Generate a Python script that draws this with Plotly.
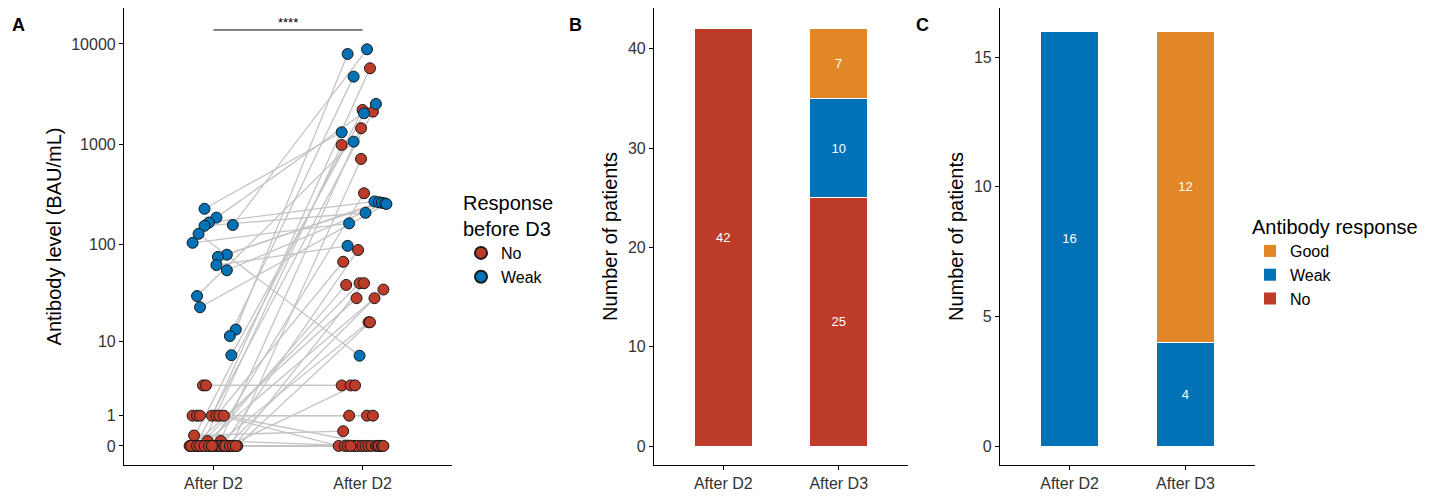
import numpy as np
import plotly.graph_objects as go

W, H = 1435, 496
OFF = 8  # default page body margin of the html page

# ---------------- Panel A data ----------------
groups = ["No", "Weak"]
# Red ("No" before D3) patients: value after D2, value after D3, horizontal jitter
no_d2 = [3, 3, 1, 1, 1, 1, 1, 1, 1, 0.27, 0.12, 0.12,
         0, 0, 0, 0, 0, 0, 0, 0, 0, 0, 0, 0, 0, 0, 0,
         0, 0, 0, 0, 0, 0, 0, 0, 0, 0, 0, 0, 0, 0, 0]
no_d3 = [3, 3, 1, 1, 1, 5730, 67, 0, 0, 0.4, 28.5, 0,
         3, 2205, 2120, 1450, 988, 717, 326, 88, 40.6, 40.6, 39, 35, 28.5, 16, 16,
         0, 0, 0, 0, 0, 0, 0, 0, 0, 0, 0, 0, 0, 0, 0]
no_j2 = [-0.07, -0.05, -0.14, -0.11, -0.09, -0.01, 0.02, 0.04, 0.07, -0.13, -0.04, 0.05,
         0.10, -0.16, -0.12, 0.03, -0.08, 0.12, -0.02, 0.06, -0.10, 0.14, -0.05, 0.09, -0.14, 0.01, 0.16,
         -0.15, -0.11, -0.09, -0.06, -0.03, 0.0, 0.02, 0.04, 0.05, 0.07, 0.08, 0.11, 0.13, -0.01, 0.15]
no_j3 = [-0.14, -0.08, -0.09, 0.03, 0.07, 0.05, -0.13, -0.16, 0.12, -0.13, 0.08, -0.02,
         -0.05, 0.0, 0.07, -0.01, -0.14, -0.01, 0.01, -0.03, -0.02, 0.01, -0.11, 0.14, -0.04, 0.04, 0.05,
         -0.12, -0.10, -0.07, -0.05, -0.04, 0.0, 0.02, 0.04, 0.06, 0.09, 0.10, 0.11, 0.13, 0.14, -0.08]

# Blue ("Weak" before D3) patients
weak_d2 = [228, 186, 166, 157, 154, 128, 104, 79, 75, 62, 55, 30, 23, 13.4, 11.4, 7.0]
weak_d3 = [1322, 2530, 270, 8850, 208, 6.9, 163, 265, 262, 97, 258, 1066, 255, 7950, 4730, 2043]
weak_j2 = [-0.06, 0.02, -0.03, 0.13, -0.06, -0.10, -0.14, 0.09, 0.03, 0.02, 0.09, -0.11, -0.09, 0.15, 0.11, 0.12]
weak_j3 = [-0.14, 0.09, 0.08, 0.03, 0.02, -0.02, -0.09, 0.11, 0.13, -0.10, 0.15, -0.06, 0.16, -0.10, -0.06, 0.01]

time_labels_a = ["After D2", "After D2"]
y_tick_values = [0, 1, 10, 100, 1000, 10000]
y_tick_labels = ["0", "1", "10", "100", "1000", "10000"]
signif_label = "****"

# ---------------- Panel B / C data ----------------
times = ["After D2", "After D3"]
resp_levels = ["No", "Weak", "Good"]
b_counts = {"No": [42, 25], "Weak": [0, 10], "Good": [0, 7]}
c_counts = {"No": [0, 0], "Weak": [16, 4], "Good": [0, 12]}

colors = {"No": "#BC3C29", "Weak": "#0072B5", "Good": "#E18727"}

FONT = "Liberation Sans, Arial, sans-serif"


def tr(v):
    return np.log10(np.asarray(v, dtype=float) + 1)


def px_x(p):
    return (p - OFF) / W


def px_y(p):
    return 1 - (p - OFF) / H


fig = go.Figure()

# connecting lines
lx, ly = [], []
for d2, d3, j2, j3 in list(zip(no_d2, no_d3, no_j2, no_j3)) + list(zip(weak_d2, weak_d3, weak_j2, weak_j3)):
    lx += [0 + j2, 1 + j3, None]
    ly += [float(tr(d2)), float(tr(d3)), None]
fig.add_trace(go.Scatter(x=lx, y=ly, mode="lines", line=dict(color="#C4C4C4", width=1.3),
                         showlegend=False, hoverinfo="skip", xaxis="x", yaxis="y"))

for g, d2, d3, j2, j3, rank in [("No", no_d2, no_d3, no_j2, no_j3, 1),
                                ("Weak", weak_d2, weak_d3, weak_j2, weak_j3, 2)]:
    xs = [0 + j for j in j2] + [1 + j for j in j3]
    ys = list(tr(d2)) + list(tr(d3))
    fig.add_trace(go.Scatter(x=xs, y=ys, mode="markers", name=g, legend="legend", legendrank=rank,
                             marker=dict(color=colors[g], size=11, line=dict(color="#1a1a1a", width=1)),
                             xaxis="x", yaxis="y"))

# Panel B bars
for lvl in resp_levels:
    vals = b_counts[lvl]
    fig.add_trace(go.Bar(x=[0, 1], y=vals, width=0.5, marker=dict(color=colors[lvl], line=dict(color="white", width=1)),
                         text=[str(v) if v > 0 else "" for v in vals], textposition="inside",
                         insidetextanchor="middle", textangle=0,
                         textfont=dict(color="white", size=13, family=FONT),
                         showlegend=False, xaxis="x2", yaxis="y2", hoverinfo="skip"))
# Panel C bars
for lvl in resp_levels:
    vals = c_counts[lvl]
    fig.add_trace(go.Bar(x=[0, 1], y=vals, width=0.5, marker=dict(color=colors[lvl], line=dict(color="white", width=1)),
                         text=[str(v) if v > 0 else "" for v in vals], textposition="inside",
                         insidetextanchor="middle", textangle=0,
                         textfont=dict(color="white", size=13, family=FONT),
                         showlegend=False, xaxis="x3", yaxis="y3", hoverinfo="skip"))
# legend entries for C
for rank, lvl in enumerate(["Good", "Weak", "No"]):
    fig.add_trace(go.Scatter(x=[None], y=[None], mode="markers", name=lvl, legend="legend2", legendrank=rank + 1,
                             marker=dict(symbol="square", size=17, color=colors[lvl]),
                             xaxis="x3", yaxis="y3"))

ytop = px_y(8)
ybot = px_y(465)

axis_common = dict(showline=True, linecolor="black", linewidth=1.2, ticks="outside", ticklen=4,
                   tickcolor="black", showgrid=False, zeroline=False,
                   tickfont=dict(size=16, color="#333333", family=FONT))

# significance bar
sig_y = (446 - 30) / 100.5

fig.add_shape(type="line", xref="x", yref="y", x0=0, x1=1, y0=sig_y, y1=sig_y,
              line=dict(color="black", width=1))

annotations = [
    dict(x=0.5, y=sig_y, xref="x", yref="y", text=signif_label, showarrow=False, yanchor="bottom",
         yshift=-2, font=dict(size=13, color="black", family=FONT)),
]
for letter, lx_px in [("A", 18), ("B", 575), ("C", 922)]:
    annotations.append(dict(x=px_x(lx_px), y=px_y(25), xref="paper", yref="paper", text=f"<b>{letter}</b>",
                            showarrow=False, xanchor="center", yanchor="middle",
                            font=dict(size=18, color="black", family=FONT)))

fig.update_layout(
    width=W, height=H, margin=dict(l=0, r=0, t=0, b=0),
    paper_bgcolor="white", plot_bgcolor="white",
    font=dict(family=FONT, color="black"),
    barmode="stack",
    xaxis=dict(domain=[px_x(124), px_x(452)], range=[-0.6, 1.6], tickvals=[0, 1], ticktext=time_labels_a,
               anchor="y", **axis_common),
    yaxis=dict(domain=[ybot, ytop], range=[-0.19, 4.358], tickvals=list(tr(y_tick_values)),
               ticktext=y_tick_labels, anchor="x",
               title=dict(text="Antibody level (BAU/mL)", font=dict(size=20, family=FONT), standoff=4),
               **axis_common),
    xaxis2=dict(domain=[px_x(654), px_x(908)], range=[-0.6, 1.6], tickvals=[0, 1], ticktext=times,
                anchor="y2", **axis_common),
    yaxis2=dict(domain=[ybot, ytop], range=[-1.9, 44.1], tickvals=[0, 10, 20, 30, 40], anchor="x2",
                title=dict(text="Number of patients", font=dict(size=20, family=FONT), standoff=4),
                **axis_common),
    xaxis3=dict(domain=[px_x(1000), px_x(1255)], range=[-0.6, 1.6], tickvals=[0, 1], ticktext=times,
                anchor="y3", **axis_common),
    yaxis3=dict(domain=[ybot, ytop], range=[-0.73, 16.9], tickvals=[0, 5, 10, 15], anchor="x3",
                title=dict(text="Number of patients", font=dict(size=20, family=FONT), standoff=4),
                **axis_common),
    legend=dict(x=px_x(461), y=px_y(184), xanchor="left", yanchor="top", traceorder="normal",
                title=dict(text="Response<br>before D3", font=dict(size=20, family=FONT)),
                font=dict(size=16, family=FONT), itemsizing="constant", bgcolor="rgba(0,0,0,0)",
                tracegroupgap=0),
    legend2=dict(x=px_x(1250), y=px_y(208), xanchor="left", yanchor="top", traceorder="normal",
                 title=dict(text="Antibody response", font=dict(size=20, family=FONT)),
                 font=dict(size=16, family=FONT), itemsizing="constant", bgcolor="rgba(0,0,0,0)",
                 tracegroupgap=0),
    annotations=annotations,
)

fig.write_html("out.html")
